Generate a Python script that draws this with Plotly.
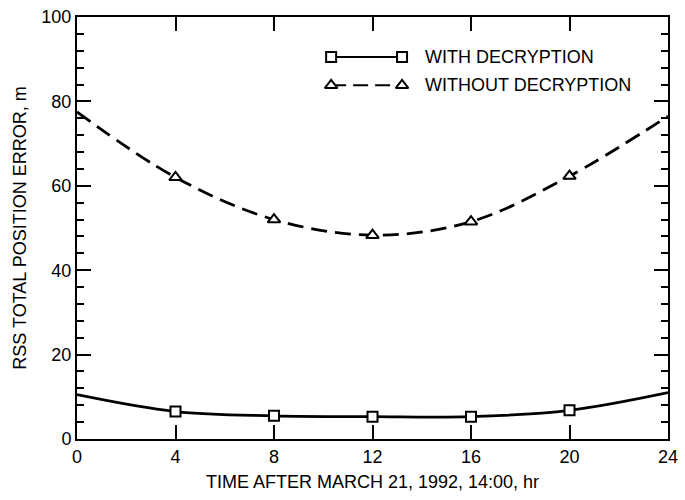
import plotly.graph_objects as go

# hours after March 21, 1992, 14:00
hours = [0, 4, 8, 12, 16, 20, 24]
with_decryption = [10.5, 6.5, 5.5, 5.3, 5.3, 6.8, 11.0]
without_decryption = [77.5, 62.0, 52.0, 48.3, 51.5, 62.3, 76.5]

x_ticks = [0, 4, 8, 12, 16, 20, 24]
y_ticks = [0, 20, 40, 60, 80, 100]

labels = ["WITH DECRYPTION", "WITHOUT DECRYPTION"]

FONT = "Liberation Sans, Arial, Helvetica, sans-serif"
DASH = "16px,8px"

fig = go.Figure()

# smooth curves through all points
fig.add_trace(go.Scatter(
    x=hours, y=with_decryption, mode="lines",
    line=dict(color="black", width=2.8, shape="spline", smoothing=1.0),
    showlegend=False, hoverinfo="skip",
))
fig.add_trace(go.Scatter(
    x=hours, y=without_decryption, mode="lines",
    line=dict(color="black", width=2.8, shape="spline", smoothing=1.0, dash=DASH),
    showlegend=False, hoverinfo="skip",
))

# markers only at the interior points
fig.add_trace(go.Scatter(
    x=hours[1:-1], y=with_decryption[1:-1], mode="markers",
    marker=dict(symbol="square", size=10, color="white",
                line=dict(color="black", width=2)),
    showlegend=False,
))
fig.add_trace(go.Scatter(
    x=hours[1:-1], y=without_decryption[1:-1], mode="markers",
    marker=dict(symbol="triangle-up", size=11, color="white",
                line=dict(color="black", width=2)),
    showlegend=False,
))

# hand-drawn legend on an overlay axis (0..1 in both directions)
leg_x = [0.43, 0.55]
leg_y = [0.905, 0.838]
fig.add_trace(go.Scatter(
    x=leg_x, y=[leg_y[0]] * 2, xaxis="x2", yaxis="y2", mode="lines+markers",
    line=dict(color="black", width=2),
    marker=dict(symbol="square", size=10, color="white",
                line=dict(color="black", width=2)),
    showlegend=False, hoverinfo="skip",
))
fig.add_trace(go.Scatter(
    x=leg_x, y=[leg_y[1]] * 2, xaxis="x2", yaxis="y2", mode="lines+markers",
    line=dict(color="black", width=2, dash="15px,7px"),
    marker=dict(symbol="triangle-up", size=11, color="white",
                line=dict(color="black", width=2)),
    showlegend=False, hoverinfo="skip",
))
for txt, yy in zip(labels, leg_y):
    fig.add_annotation(
        x=0.585, y=yy, xref="x2", yref="y2", text=txt, showarrow=False,
        xanchor="left", yanchor="middle", font=dict(size=18, color="black"),
    )

axis_common = dict(
    showline=True, linecolor="black", linewidth=2, mirror="ticks",
    ticks="inside", ticklen=14, tickwidth=1.5, tickcolor="black",
    showgrid=False, zeroline=False,
    tickfont=dict(size=18, color="black"),
    ticklabeloverflow="allow",
)

fig.update_layout(
    width=685, height=500,
    margin=dict(l=77, r=7, t=9, b=61),
    paper_bgcolor="white", plot_bgcolor="white",
    font=dict(family=FONT, color="black"),
    showlegend=False,
    xaxis=dict(
        range=[0, 24], tickvals=x_ticks,
        title=dict(text="TIME AFTER MARCH 21, 1992, 14:00, hr",
                   font=dict(size=18), standoff=10),
        **axis_common,
    ),
    yaxis=dict(
        range=[0, 100], tickvals=y_ticks,
        minor=dict(dtick=4, ticks="inside", ticklen=7, tickwidth=1.5,
                   tickcolor="black", showgrid=False),
        title=dict(text="RSS TOTAL POSITION ERROR, m",
                   font=dict(size=18), standoff=10),
        **axis_common,
    ),
    xaxis2=dict(overlaying="x", range=[0, 1], visible=False, domain=[0, 1]),
    yaxis2=dict(overlaying="y", range=[0, 1], visible=False),
)

# drop the default page margin so the figure sits at the window origin
fig.write_html(
    "out.html",
    config={"displayModeBar": False},
    post_script="document.body.style.margin='0';",
)
